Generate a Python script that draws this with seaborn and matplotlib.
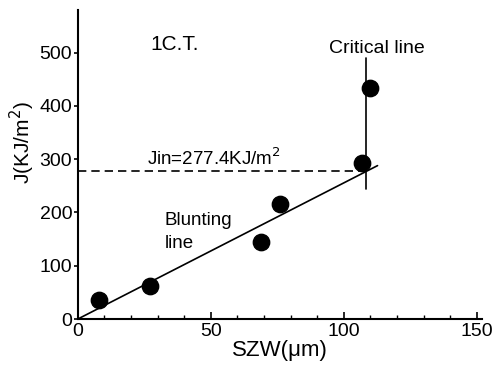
import matplotlib
matplotlib.use("Agg")
import matplotlib.pyplot as plt
import seaborn as sns
import pandas as pd
from matplotlib.ticker import MultipleLocator

sns.set_theme(style="ticks")
plt.rcParams['font.family'] = ['Liberation Sans', 'DejaVu Sans']
plt.rcParams.update({"text.color": "black", "axes.labelcolor": "black",
                     "xtick.color": "black", "ytick.color": "black"})

# data
szw = [8, 27, 69, 76, 107, 110]
j_vals = [36, 62, 145, 216, 293, 434]
blunt_x = [0, 112.7]
blunt_j = [0, 288]
crit_x = [108.5, 108.5]
crit_j = [244, 490]
jin_x = [0, 108.5]
jin_j = [277.4, 277.4]
xticks = [0, 50, 100, 150]
yticks = [0, 100, 200, 300, 400, 500]

fig = plt.figure(figsize=(4.99, 3.74), dpi=100)
ax = fig.add_axes([0.156, 0.147, 0.81, 0.826])

df = pd.DataFrame({"SZW": szw, "J": j_vals})
sns.lineplot(x=blunt_x, y=blunt_j, ax=ax, color="black", lw=1.2)
sns.lineplot(x=crit_x, y=crit_j, ax=ax, color="black", lw=1.2, orient="y")
ax.plot(jin_x, jin_j, color="black", lw=1.2, ls=(0, (5, 3)))
sns.scatterplot(data=df, x="SZW", y="J", ax=ax, color="black", s=140,
                edgecolor="black", zorder=5)

ax.set_xlim(0, 152)
ax.set_ylim(0, 580)
ax.set_xticks(xticks)
ax.set_yticks(yticks)
ax.xaxis.set_minor_locator(MultipleLocator(10))
ax.tick_params(axis="x", which="major", direction="in", length=5, width=1.2,
               labelsize=14, pad=3)
ax.tick_params(axis="x", which="minor", direction="in", length=3, width=1)
ax.tick_params(axis="y", which="major", direction="out", length=3, width=1.2,
               labelsize=14, pad=1)
sns.despine(ax=ax)
for s in ["left", "bottom"]:
    ax.spines[s].set_linewidth(1.5)
    ax.spines[s].set_color("black")

ax.set_xlabel("SZW(μm)", fontsize=16, labelpad=0)
ax.set_ylabel("J(KJ/m$^2$)", fontsize=15, labelpad=2, y=0.57)

ax.text(36.5, 515, "1C.T.", fontsize=15, ha="center", va="center")
ax.text(112.4, 508, "Critical line", fontsize=14, ha="center", va="center")
ax.text(26, 282, "Jin=277.4KJ/m$^2$", fontsize=13.5, ha="left", va="bottom")
ax.text(32.5, 185, "Blunting", fontsize=13.5, ha="left", va="center")
ax.text(32.5, 142, "line", fontsize=13.5, ha="left", va="center")

fig.savefig("out.png", dpi=100)
